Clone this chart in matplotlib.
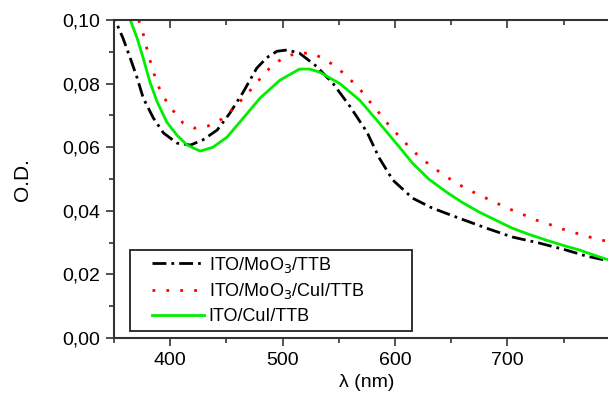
"""
plot.py - optical density of ITO/MoO3/TTB, ITO/MoO3/CuI/TTB and ITO/CuI/TTB stacks
"""
import numpy as np, matplotlib
matplotlib.use("Agg")
import matplotlib.pyplot as plt
from matplotlib.ticker import MultipleLocator
from matplotlib.patches import Rectangle
plt.rcParams.update({"font.family": ["Liberation Sans", "DejaVu Sans"], "font.size": 14})

# ----- data -----
wl_moo3 = [350, 353, 358, 364.5, 370.6, 376, 385, 394, 406, 418, 429, 441.7, 453, 465, 477, 486, 495, 504, 515,
           530, 545, 560, 575, 586, 598, 615.6, 633, 657, 681, 704, 728, 752, 770, 787, 790]
od_moo3 = [0.104, 0.0984, 0.0943, 0.088, 0.0818, 0.0755, 0.0692, 0.0645, 0.0613, 0.0607, 0.0623, 0.0654, 0.0707,
           0.0774, 0.0849, 0.0882, 0.0902, 0.0906, 0.0896, 0.0855, 0.080, 0.0728, 0.0648, 0.0566, 0.0497, 0.044,
           0.0409, 0.0377, 0.0346, 0.0318, 0.0299, 0.0277, 0.0258, 0.0245, 0.0243]
wl_moo3_cui = [372, 375, 378, 380.5, 384, 386.7, 391, 397, 404.4, 411.5, 422, 433.7, 446, 455.6, 465, 474, 482.5,
               491, 502, 513, 526, 537.5, 548, 558, 568, 576, 584.5, 593, 602, 611, 621, 631, 642, 654.6, 666,
               678, 690, 701.7, 713, 725.6, 737, 748.7, 761, 772.7, 784, 790]
od_moo3_cui = [0.100, 0.0969, 0.093, 0.089, 0.0852, 0.0818, 0.078, 0.0742, 0.0707, 0.0676, 0.066, 0.0667, 0.0689,
               0.072, 0.0755, 0.079, 0.0827, 0.0858, 0.0884, 0.0896, 0.0896, 0.0877, 0.0852, 0.082, 0.0786, 0.075,
               0.0714, 0.0676, 0.0641, 0.0607, 0.0572, 0.0544, 0.0516, 0.0487, 0.0465, 0.0445, 0.0425, 0.0406,
               0.039, 0.0371, 0.0358, 0.0343, 0.033, 0.0318, 0.0308, 0.0303]
wl_cui = [362, 364.5, 370.6, 376, 382, 388.5, 397, 406, 415, 426.6, 438, 450.6, 465, 480, 497.6, 515, 524, 533,
          551, 568.6, 586, 604, 615.6, 630, 645.8, 660, 675, 690, 704, 720, 734.5, 750, 764, 776, 787, 790]
od_cui = [0.103, 0.100, 0.0943, 0.088, 0.0805, 0.0742, 0.0679, 0.0638, 0.0607, 0.0588, 0.060, 0.0632, 0.0692,
          0.0755, 0.0811, 0.0846, 0.0846, 0.0836, 0.080, 0.0748, 0.0676, 0.0600, 0.0550, 0.0500, 0.0459, 0.0426,
          0.0396, 0.0370, 0.0346, 0.0325, 0.0308, 0.0291, 0.0277, 0.0262, 0.0249, 0.0246]
labels = ["ITO/MoO$_3$/TTB", "ITO/MoO$_3$/CuI/TTB", "ITO/CuI/TTB"]
yticks = [0.00, 0.02, 0.04, 0.06, 0.08, 0.10]
ytick_labels = ["0,00", "0,02", "0,04", "0,06", "0,08", "0,10"]
xticks = [400, 500, 600, 700]

fig = plt.figure(figsize=(6.08, 3.94), dpi=100)
ax = fig.add_axes([0.1875, 0.142, 0.832, 0.807])
kw = dict(lw=2.0, solid_joinstyle="round", dash_joinstyle="round")
ax.plot(wl_moo3, od_moo3, color="black", ls=(0, (5, 1.8, 1, 1.8)), label=labels[0], **kw)
ax.plot(wl_moo3_cui, od_moo3_cui, color="#ff0000", ls=(0, (1, 4)), label=labels[1], **kw)
ax.plot(wl_cui, od_cui, color="#00ee00", label=labels[2], **kw)
ax.set_xlim(350, 800); ax.set_ylim(0, 0.10)
ax.set_xticks(xticks); ax.set_yticks(yticks); ax.set_yticklabels(ytick_labels)
ax.xaxis.set_minor_locator(MultipleLocator(50)); ax.yaxis.set_minor_locator(MultipleLocator(0.01))
ax.tick_params(which="both", direction="out", color="#333333", width=1.2, top=True, right=False, pad=4)
ax.tick_params(which="major", length=6); ax.tick_params(which="minor", length=3.5)
for t in ax.xaxis.get_ticklines(minor=False)[1::2] + ax.xaxis.get_ticklines(minor=True)[1::2]:
    t.set_marker(3)  # top ticks point down (inward)
for sp in ax.spines.values(): sp.set_linewidth(1.5); sp.set_color("#333333")
ax.set_ylabel("O.D.", labelpad=22, fontsize=15)
ax.set_xlabel("λ (nm)", labelpad=4)
leg = ax.legend(loc="lower left", bbox_to_anchor=(0.075, 0.04), borderaxespad=0, borderpad=0, frameon=False,
                handlelength=2.9, handletextpad=0.25, labelspacing=0.38, fontsize=13)
ax.add_patch(Rectangle((0.0316, 0.022), 0.557, 0.255, transform=ax.transAxes, fill=False,
                       edgecolor="#222222", lw=1.3, zorder=5))
fig.savefig("out.png", dpi=100)
